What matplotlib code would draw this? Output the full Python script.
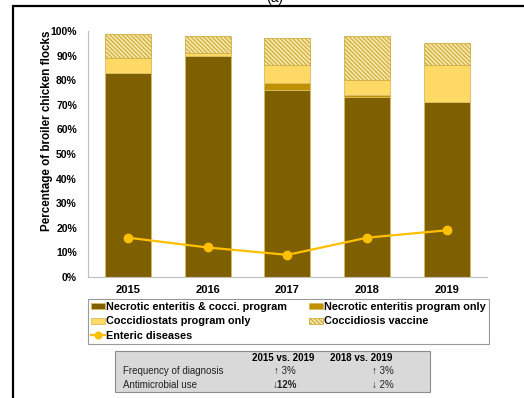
import matplotlib.pyplot as plt
from matplotlib.patches import Rectangle

plt.rcParams['font.family'] = ['Liberation Sans', 'DejaVu Sans']
plt.rcParams['hatch.linewidth'] = 0.9

# Programs used in broiler flocks (% of flocks), stacked per year
years = ['2015', '2016', '2017', '2018', '2019']
ne_cocci = [83, 90, 76, 73, 71]
ne_only = [0, 0, 3, 1, 0]
coccidiostats = [6, 1, 7, 6, 15]
cocci_vaccine = [10, 7, 11, 18, 9]
enteric = [16, 12, 9, 16, 19]

# Summary table under the legend
table_cols = ['2015 vs. 2019', '2018 vs. 2019']
table_rows = ['Frequency of diagnosis', 'Antimicrobial use']
table_vals = [['\u2191 3%', '\u2191 3%'], ['\u219312%', '\u2193 2%']]

fig = plt.figure(figsize=(5.24, 3.98), dpi=100)
ax = fig.add_axes([0.168, 0.304, 0.761, 0.618])

x = list(range(len(years)))
w = 0.575
edge = '#D8BC62'

b1 = ax.bar(x, ne_cocci, w, color='#7F6000', edgecolor=edge, linewidth=0.6,
            label='Necrotic enteritis & cocci. program')
bottom = list(ne_cocci)
b2 = ax.bar(x, ne_only, w, bottom=bottom, color='#BF9000', edgecolor=edge,
            linewidth=0.6, label='Necrotic enteritis program only')
bottom = [a + b for a, b in zip(bottom, ne_only)]
b3 = ax.bar(x, coccidiostats, w, bottom=bottom, color='#FFD966', edgecolor=edge,
            linewidth=0.6, label='Coccidiostats program only')
bottom = [a + b for a, b in zip(bottom, coccidiostats)]
b4 = ax.bar(x, cocci_vaccine, w, bottom=bottom, color='#F8E9A8', edgecolor='#CFAE42',
            linewidth=0.6, hatch='\\' * 8, label='Coccidiosis vaccine')
ln, = ax.plot(x, enteric, color='#FFC000', lw=1.6, marker='o', markersize=6,
              label='Enteric diseases')

ax.set_xlim(-0.5, 4.5)
ax.set_ylim(0, 100)
ax.set_yticks(range(0, 101, 10))
ax.set_yticklabels([f'{v}%' for v in range(0, 101, 10)], fontsize=7.5, fontweight='bold')
ax.set_xticks(x)
ax.set_xticklabels(years, fontsize=8, fontweight='bold')
ax.tick_params(length=0, pad=6)
ax.tick_params(axis='y', pad=8)
for s in ['top', 'right']:
    ax.spines[s].set_visible(False)
for s in ['left', 'bottom']:
    ax.spines[s].set_color('#BFBFBF')
    ax.spines[s].set_linewidth(0.8)
ax.set_ylabel('Percentage of broiler chicken flocks', fontsize=8.4, fontweight='bold')
ax.yaxis.set_label_coords(-0.088, 0.593)

leg = fig.legend([b1, b3, ln, b2, b4],
                 [b1.get_label(), b3.get_label(), ln.get_label(), b2.get_label(), b4.get_label()],
                 ncol=2, loc='upper left', bbox_to_anchor=(0.168, 0.249, 0.765, 0.0),
                 mode='expand', prop={'size': 7.8, 'weight': 'bold'}, frameon=True,
                 fancybox=False, handlelength=1.3, handleheight=0.5, handletextpad=0.1,
                 columnspacing=0.4, labelspacing=0.4, borderpad=0.3,
                 borderaxespad=0, markerscale=0.8)
leg.get_frame().set_edgecolor('#808080')
leg.get_frame().set_linewidth(0.8)

# grey summary box
W, H = 524, 398
fig.patches.append(Rectangle((115 / W, 1 - 392 / H), 315 / W, 41 / H,
                             transform=fig.transFigure, facecolor='#D9D9D9',
                             edgecolor='#8C8C8C', linewidth=0.8))
col_x = [283, 361]
val_x = [285, 383]
fig.text(col_x[0] / W, 1 - 358 / H, table_cols[0], fontsize=7, fontweight='bold',
         ha='center', va='center')
fig.text(col_x[1] / W, 1 - 358 / H, table_cols[1], fontsize=7, fontweight='bold',
         ha='center', va='center')
for i, (lab, vals) in enumerate(zip(table_rows, table_vals)):
    y = 1 - (371 + 14 * i) / H
    fig.text(123 / W, y, lab, fontsize=7, ha='left', va='center', color='#222222')
    for j, v in enumerate(vals):
        fig.text(val_x[j] / W, y, v, fontsize=7, ha='center', va='center', color='#222222',
                 fontweight='bold' if v.endswith('12%') else 'normal')

# outer frame and panel letter
fig.patches.append(Rectangle((13 / W, -0.1), 1.2, 1.1 - 6 / H, transform=fig.transFigure,
                             facecolor='none', edgecolor='black', linewidth=1.6))
fig.text(0.525, 1.006, '(a)', fontsize=10, ha='center', va='center')

fig.savefig('out.png', dpi=100)
